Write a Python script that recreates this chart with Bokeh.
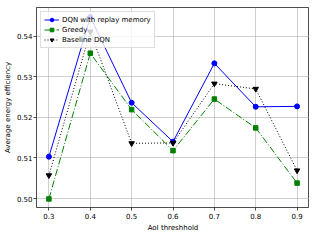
from bokeh.plotting import figure
from bokeh.embed import file_html
from bokeh.resources import INLINE
from bokeh.models import Range1d, FixedTicker

# ---- data ----
aoi_threshold = [0.3, 0.4, 0.5, 0.6, 0.7, 0.8, 0.9]
dqn_replay = [0.5103, 0.5447, 0.5236, 0.5140, 0.5333, 0.5226, 0.5227]
greedy = [0.4999, 0.5358, 0.5219, 0.5118, 0.5245, 0.5174, 0.5038]
baseline_dqn = [0.5057, 0.5411, 0.5136, 0.5137, 0.5283, 0.5270, 0.5069]

x_ticks = [0.3, 0.4, 0.5, 0.6, 0.7, 0.8, 0.9]
x_tick_labels = ["0.3", "0.4", "0.5", "0.6", "0.7", "0.8", "0.9"]
y_ticks = [0.50, 0.51, 0.52, 0.53, 0.54]
y_tick_labels = ["0.50", "0.51", "0.52", "0.53", "0.54"]

FONT = "DejaVu Sans"
FS = "7px"

p = figure(width=304, height=230, output_backend="svg", toolbar_location=None,
           frame_width=273, frame_height=200,
           min_border_left=32, min_border_right=0, min_border_top=7, min_border_bottom=23,
           x_range=Range1d(0.27, 0.93), y_range=Range1d(0.49779, 0.54706))

p.background_fill_color = "white"
p.border_fill_color = "white"
p.outline_line_color = "black"
p.outline_line_width = 0.7

for g in (p.xgrid, p.ygrid):
    g.grid_line_color = "#b0b0b0"
    g.grid_line_width = 0.6

p.xaxis.ticker = FixedTicker(ticks=x_ticks)
p.yaxis.ticker = FixedTicker(ticks=y_ticks)
p.xaxis.major_label_overrides = dict(zip(x_ticks, x_tick_labels))
p.yaxis.major_label_overrides = dict(zip(y_ticks, y_tick_labels))

for ax in (p.xaxis, p.yaxis):
    ax.axis_line_color = None
    ax.major_tick_line_color = "black"
    ax.major_tick_line_width = 0.7
    ax.major_tick_out = 3
    ax.major_tick_in = 0
    ax.minor_tick_line_color = None
    ax.major_label_text_font = FONT
    ax.major_label_text_font_size = FS
    ax.major_label_text_color = "black"
    ax.axis_label_text_font = FONT
    ax.axis_label_text_font_size = FS
    ax.axis_label_text_font_style = "normal"
    ax.axis_label_text_color = "black"

p.xaxis.axis_label = "AoI threshhold"
p.yaxis.axis_label = "Average energy efficiency"
p.xaxis.major_label_standoff = 2
p.xaxis.axis_label_standoff = 2
p.yaxis.major_label_standoff = 1
p.yaxis.axis_label_standoff = 2

# series
p.line(aoi_threshold, dqn_replay, color="blue", line_width=1, legend_label="DQN with replay memory")
p.scatter(aoi_threshold, dqn_replay, marker="circle", size=5, color="blue", legend_label="DQN with replay memory")

p.line(aoi_threshold, greedy, color="green", line_width=1, line_dash="7 2 1 2", legend_label="Greedy")
p.scatter(aoi_threshold, greedy, marker="square", size=4.5, color="green", legend_label="Greedy")

p.line(aoi_threshold, baseline_dqn, color="black", line_width=1, line_dash="1 2", legend_label="Baseline DQN")
p.scatter(aoi_threshold, baseline_dqn, marker="inverted_triangle", size=5.5, color="black", legend_label="Baseline DQN")

lg = p.legend[0]
lg.location = "top_left"
lg.margin = 4
lg.padding = 3
lg.spacing = 1
lg.label_height = 9
lg.glyph_height = 9
lg.glyph_width = 15
lg.label_standoff = 3
lg.label_text_font = FONT
lg.label_text_font_size = FS
lg.label_text_color = "black"
lg.border_line_color = "#bbbbbb"
lg.border_line_width = 0.7
lg.background_fill_alpha = 0.8

open("out.html", "w").write(file_html(p, INLINE))
